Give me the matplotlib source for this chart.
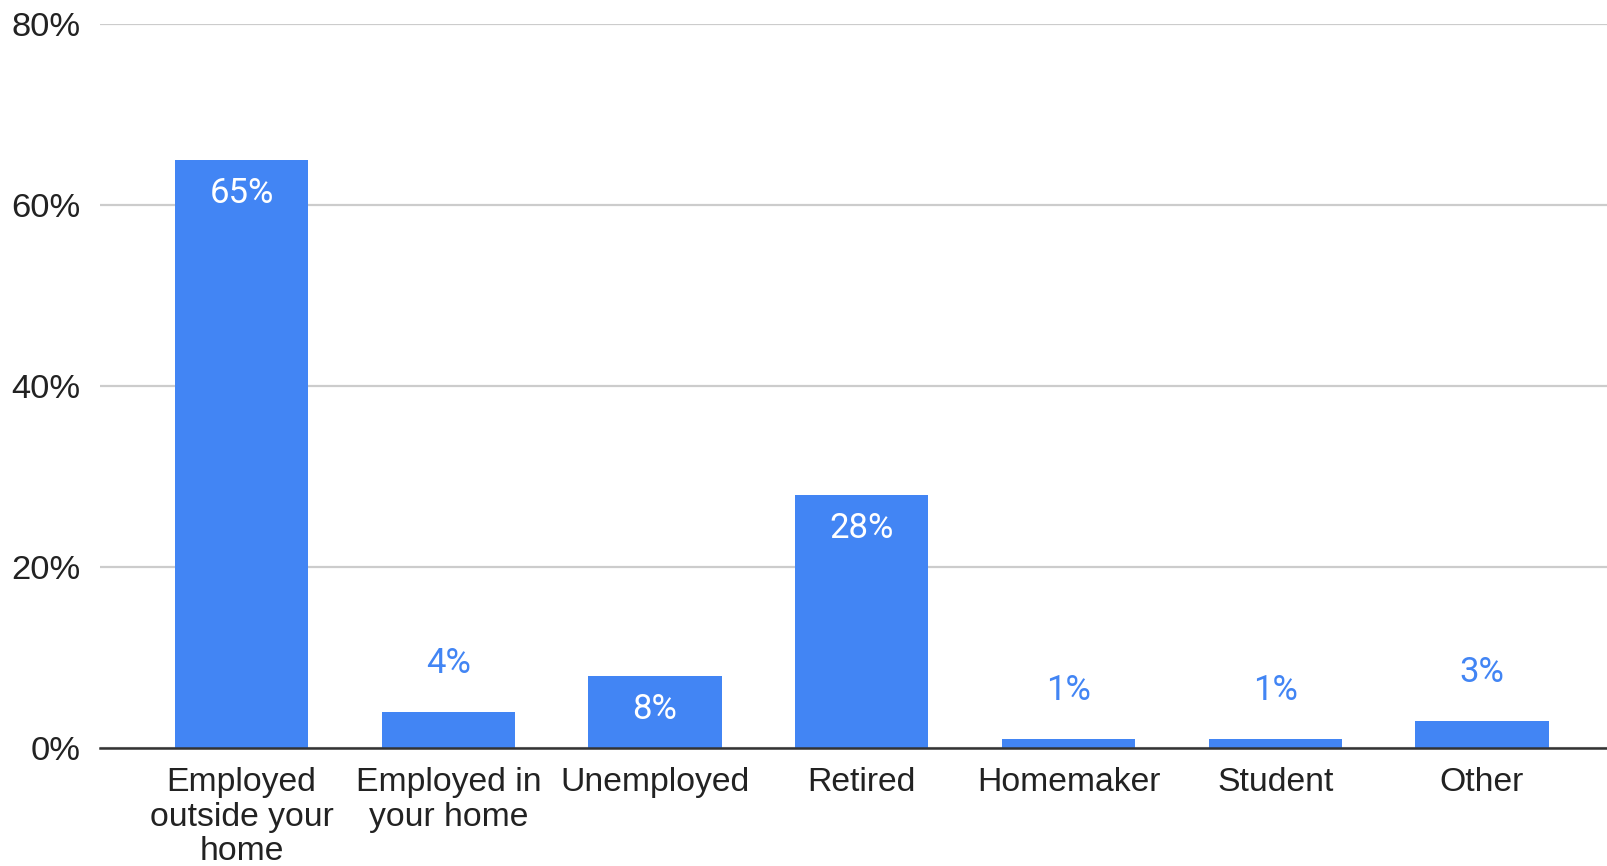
import matplotlib
matplotlib.use("Agg")
import matplotlib.pyplot as plt
from matplotlib.ticker import FixedLocator, PercentFormatter

categories = ["Employed\noutside your\nhome", "Employed in\nyour home", "Unemployed",
              "Retired", "Homemaker", "Student", "Other"]
values = [0.65, 0.04, 0.08, 0.28, 0.01, 0.01, 0.03]
label_texts = ["65%", "4%", "8%", "28%", "1%", "1%", "3%"]
inside = [True, False, True, True, False, False, False]
yticks = [0, 0.2, 0.4, 0.6, 0.8]

BLUE = "#4285F4"

fig = plt.figure(figsize=(16.08, 8.66), dpi=100)
ax = fig.add_axes([100/1608, 118/866, 1 - 100/1608, (748-24)/866])

x = list(range(len(categories)))
ax.bar(x, values, width=0.645, color=BLUE, zorder=3)

ax.set_xlim(-0.685, 6.61)
ax.set_ylim(0, 0.8)
ax.yaxis.set_major_locator(FixedLocator(yticks))
ax.yaxis.set_major_formatter(PercentFormatter(1.0, decimals=0))
ax.grid(axis="y", color="#cccccc", linewidth=1.6, zorder=0)
ax.set_axisbelow(True)

for s in ["top", "right", "left"]:
    ax.spines[s].set_visible(False)
ax.spines["bottom"].set_color("#333333")
ax.spines["bottom"].set_linewidth(1.8)
ax.spines["bottom"].set_zorder(4)

ax.set_xticks(x)
ax.set_xticklabels(categories, fontfamily="Liberation Sans", fontsize=24.3,
                   color="#222222", linespacing=1.14)
ax.tick_params(axis="x", length=0, pad=14)
ax.tick_params(axis="y", length=0, pad=14, labelsize=24.8, labelcolor="#222222")
for t in ax.get_yticklabels():
    t.set_fontfamily("Liberation Sans")

for xi, v, txt, ins in zip(x, values, label_texts, inside):
    if ins:
        ax.annotate(txt, (xi, v), xytext=(0, -31), textcoords="offset points",
                    ha="center", va="baseline", color="white", fontsize=25,
                    fontfamily="Roboto", zorder=5)
    else:
        ax.annotate(txt, (xi, v), xytext=(0, 28), textcoords="offset points",
                    ha="center", va="baseline", color=BLUE, fontsize=25,
                    fontfamily="Roboto", zorder=5)

fig.savefig("out.png", dpi=100)
